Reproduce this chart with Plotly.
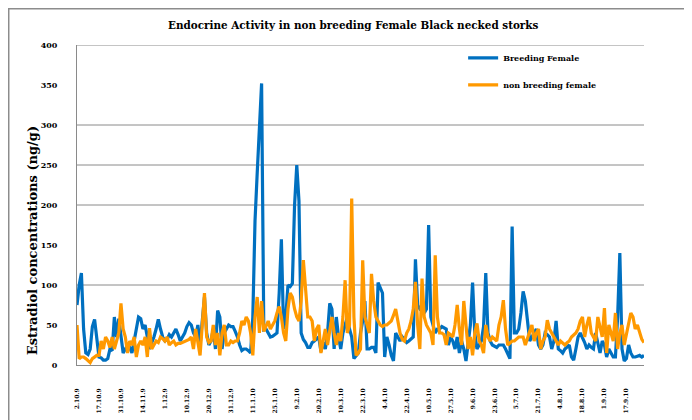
import plotly.graph_objects as go

# ---- data ----
breeding_female = [
    75, 100, 115, 45, 15, 13, 20, 48, 57, 30,
    10, 9, 6, 6, 8, 20, 18, 60, 35, 58,
    35, 15, 20, 25, 22, 15, 30, 45, 60, 58,
    45, 50, 35, 20, 28, 35, 45, 57, 45, 35,
    30, 32, 38, 35, 40, 45, 38, 30, 35, 40,
    48, 53, 50, 40, 35, 50, 25, 60, 85, 40,
    25, 30, 45, 20, 68, 60, 20, 40, 45, 50,
    48, 48, 42, 35, 25, 18, 20, 20, 18, 15,
    60, 180, 240, 290, 352, 44, 45, 40, 35, 36,
    38, 40, 90, 157, 45, 60, 100, 98, 102, 200,
    250, 205, 40, 32, 28, 22, 22, 28, 30, 33,
    35, 17, 28, 20, 40, 77, 70, 20, 60, 35,
    20, 40, 50, 60, 45, 35, 8, 12, 15, 40,
    55, 80, 20, 20, 22, 22, 15, 103, 95, 90,
    10, 35, 25, 12, 5, 40, 35, 30, 35, 32,
    28, 30, 32, 35, 132, 75, 70, 72, 65, 70,
    175, 60, 50, 40, 45, 45, 48, 47, 45, 25,
    35, 30, 20, 35, 15, 30, 20, 5, 30, 50,
    103, 40, 20, 25, 30, 48, 115, 40, 30, 25,
    23, 22, 25, 25, 25, 20, 15, 8, 173, 40,
    40, 45, 65, 92, 80, 55, 30, 35, 40, 45,
    25, 20, 25, 40, 38, 35, 20, 30, 55, 20,
    18, 15, 20, 22, 25, 10, 6, 20, 35, 40,
    35, 28, 20, 25, 22, 20, 40, 25, 15, 30,
    25, 10, 20, 15, 10, 10, 60, 140, 20, 5,
    8, 25, 15, 10, 10, 11, 12, 10, 12,
]

non_breeding_female = [
    50, 8, 10, 10, 8, 5, 3, 8, 10, 12,
    12, 30, 20, 35, 30, 22, 35, 20, 30, 40,
    77, 45, 35, 15, 30, 25, 35, 10, 25, 30,
    25, 35, 10, 46, 20, 25, 30, 28, 35, 33,
    30, 35, 25, 28, 30, 25, 27, 27, 28, 30,
    30, 32, 35, 20, 45, 30, 12, 50, 90, 35,
    28, 30, 50, 25, 40, 12, 40, 50, 25, 25,
    30, 28, 30, 30, 40, 55, 50, 60, 55, 40,
    12, 60, 85, 40, 80, 42, 50, 55, 45, 50,
    55, 65, 73, 60, 40, 30, 70, 90, 85, 70,
    60, 55, 80, 131, 90, 60, 60, 55, 30, 45,
    50, 15, 30, 45, 25, 40, 60, 40, 25, 40,
    30, 60, 106, 40, 50, 208, 60, 12, 15, 20,
    131, 60, 50, 40, 114, 80, 60, 55, 50, 48,
    50, 50, 52, 55, 62, 70, 55, 40, 32, 30,
    40, 45, 55, 70, 104, 50, 20, 108, 60, 50,
    45, 40, 25, 137, 60, 40, 40, 38, 25, 40,
    38, 35, 50, 75, 45, 25, 80, 50, 20, 35,
    12, 40, 52, 30, 25, 15, 50, 35, 30, 35,
    32, 30, 50, 60, 81, 45, 25, 28, 30, 30,
    32, 35, 35, 35, 25, 35, 42, 50, 30, 40,
    45, 20, 30, 35, 56, 45, 40, 35, 30, 25,
    30, 28, 25, 28, 30, 35, 38, 40, 45, 55,
    60, 35, 50, 60, 40, 35, 30, 60, 45, 35,
    71, 15, 50, 40, 30, 65, 20, 40, 50, 25,
    40, 50, 65, 60, 45, 50, 40, 32, 28,
]

date_labels = [
    "2.10.9", "17.10.9", "31.10.9", "14.11.9", "1.12.9", "10.12.9",
    "20.12.9", "31.12.9", "11.1.10", "25.1.10", "9.2.10", "20.2.10",
    "10.3.10", "22.3.10", "4.4.10", "22.4.10", "10.5.10", "27.5.10",
    "9.6.10", "23.6.10", "5.7.10", "21.7.10", "4.8.10", "18.8.10",
    "1.9.10", "17.9.10",
]
label_every = 10

y_ticks = [0, 50, 100, 150, 200, 250, 300, 350, 400]
visible_gridlines = [100, 200, 250, 300, 400]

title_text = "Endocrine Activity in non breeding Female Black necked storks"
y_title_text = "Estradiol concentrations (ng/g)"

# ---- figure ----
x_idx = list(range(len(breeding_female)))
serif = "DejaVu Serif, serif"
grid_col = "#8a8a8a"

fig = go.Figure()
fig.add_trace(go.Scatter(
    x=x_idx, y=breeding_female, mode="lines",
    name="Breeding Female", legendgroup="a",
    line=dict(color="#0070C0", width=3.2),
))
fig.add_trace(go.Scatter(
    x=x_idx, y=non_breeding_female, mode="lines",
    name="non breeding female", legendgroup="b",
    line=dict(color="#FF9900", width=3.2),
))

for g in visible_gridlines:
    fig.add_shape(type="line", xref="paper", yref="y", x0=0, x1=1, y0=g, y1=g,
                  line=dict(color=grid_col, width=1), layer="below")

# outer chart border (left / top visible)
fig.add_shape(type="rect", xref="paper", yref="paper",
              x0=-0.1204, x1=1.3, y0=-0.4, y1=1.1133,
              line=dict(color="#8c8c8c", width=1.5), layer="below")

fig.add_annotation(text="<b>" + title_text + "</b>", xref="paper", yref="paper",
                   x=0.487, y=1.0625, xanchor="center", yanchor="middle",
                   showarrow=False, font=dict(family=serif, size=10.4, color="black"))
fig.add_annotation(text="<b>" + y_title_text + "</b>", xref="paper", yref="paper",
                   x=-0.0795, y=0.39, xanchor="center", yanchor="middle",
                   textangle=-90, showarrow=False,
                   font=dict(family=serif, size=13, color="black"))

fig.update_layout(
    width=692, height=420, autosize=False,
    margin=dict(l=69, r=56, t=37, b=63, pad=0),
    paper_bgcolor="white", plot_bgcolor="white",
    showlegend=True,
    legend=dict(x=0.681, y=1.005, xanchor="left", yanchor="top",
                bgcolor="rgba(0,0,0,0)", traceorder="grouped", tracegroupgap=8,
                font=dict(family=serif, size=8, color="black", weight="bold"),
                itemwidth=30),
    xaxis=dict(
        range=[0, len(breeding_female) - 1],
        tickmode="array",
        tickvals=[i * label_every for i in range(len(date_labels))],
        ticktext=date_labels,
        tickangle=-90,
        tickfont=dict(family=serif, size=6, color="black", weight="bold"),
        ticks="", showgrid=False, zeroline=False,
        showline=True, linecolor=grid_col, linewidth=1,
        ticklabelstandoff=20,
    ),
    yaxis=dict(
        range=[0, 400],
        tickmode="array", tickvals=y_ticks,
        tickfont=dict(family=serif, size=8, color="black", weight="bold"),
        ticks="", showgrid=False, zeroline=False,
        showline=True, linecolor=grid_col, linewidth=1,
        ticklabelstandoff=17,
    ),
)

fig.write_html("out.html")
